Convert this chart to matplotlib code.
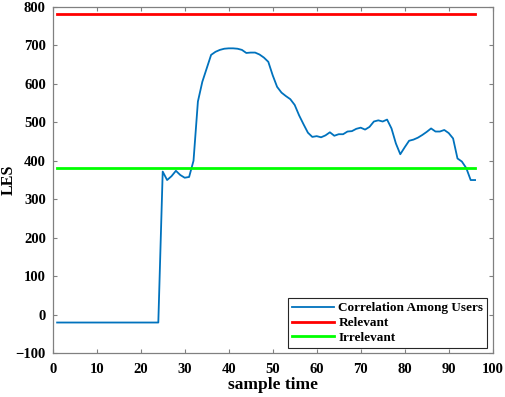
import numpy as np
import matplotlib.pyplot as plt

plt.rcParams['font.family'] = ['Liberation Serif', 'DejaVu Serif']
plt.rcParams['font.weight'] = 'bold'

# sample times 1..96
t = np.arange(1, 97)

# correlation among users
corr_flat = [-20] * 24
corr_rest = [372, 350, 360, 374, 363, 356, 358, 400, 554, 605,
             640, 675, 683, 688, 691, 692, 692, 691, 688, 680,
             681, 681, 676, 668, 657, 622, 592, 577, 568, 560,
             545, 518, 495, 473, 462, 464, 461, 466, 474, 465,
             469, 469, 476, 477, 483, 486, 481, 488, 502, 505,
             502, 507, 484, 445, 417, 435, 452, 455, 460, 467,
             475, 484, 476, 476, 480, 472, 458, 406, 398, 381,
             350, 350]
corr = np.array(corr_flat + corr_rest)

relevant = 780
irrelevant = 380

xticks = np.arange(0, 101, 10)
yticks = np.arange(-100, 801, 100)

fig = plt.figure(figsize=(5.05, 3.97), dpi=100)
ax = fig.add_axes([0.1044, 0.110, 0.8712, 0.873])

ax.plot(t, corr, color='#0072BD', lw=1.3, label='Correlation Among Users')
ax.plot(t, np.full(len(t), relevant), color='#FF0000', lw=2, label='Relevant')
ax.plot(t, np.full(len(t), irrelevant), color='#00FF00', lw=2, label='Irrelevant')

ax.set_xlim(0, 100)
ax.set_ylim(-100, 800)
ax.set_xticks(xticks)
ax.set_yticks(yticks)
ax.tick_params(direction='in', length=3, width=0.8, labelsize=10.5,
               top=True, right=True, colors='#808080', labelcolor='black')
ax.tick_params(axis='x', pad=7)
ax.tick_params(axis='y', pad=5)
for lab in ax.get_xticklabels() + ax.get_yticklabels():
    lab.set_fontweight('bold')
for s in ax.spines.values():
    s.set_color('#808080')
    s.set_linewidth(0.9)

ax.set_xlabel('sample time', fontsize=12.5, fontweight='bold', labelpad=1)
ax.set_ylabel('LES', fontsize=11.5, fontweight='bold')
ax.yaxis.label.set_va('center')
ax.yaxis.set_label_coords(-0.099, 0.5)

leg = ax.legend(loc='lower right', fontsize=9.5, frameon=True, fancybox=False,
                edgecolor='#262626', framealpha=1, borderpad=0.3,
                labelspacing=0.2, handlelength=3.2, handletextpad=0.3,
                borderaxespad=0.4)
leg.get_frame().set_linewidth(0.8)
for txt in leg.get_texts():
    txt.set_fontweight('bold')

fig.savefig('out.png', dpi=100)
